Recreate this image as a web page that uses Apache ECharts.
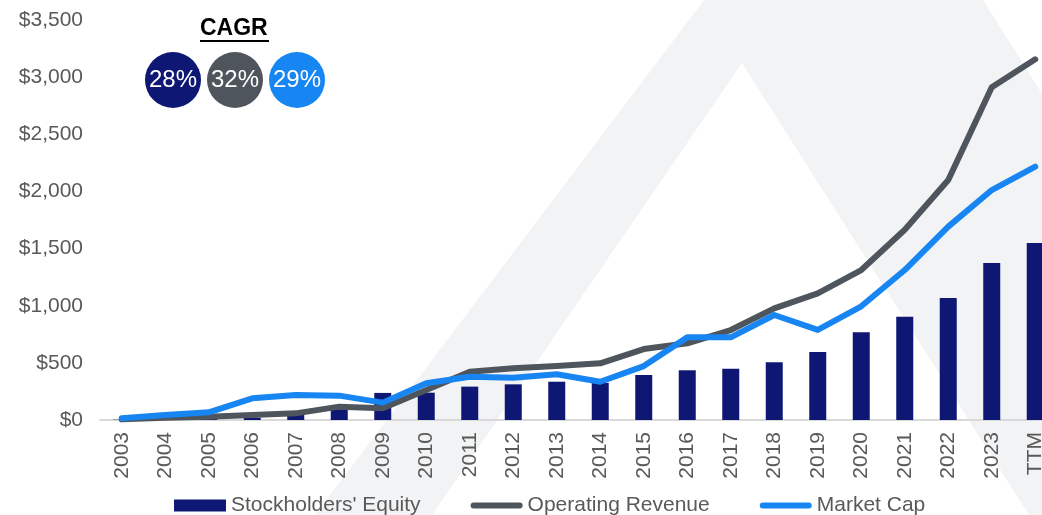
<!DOCTYPE html>
<html>
<head>
<meta charset="utf-8">
<script src="https://cdn.jsdelivr.net/npm/echarts@6/dist/echarts.min.js"></script>
<style>
html,body{margin:0;padding:0;background:#fff;}
#chart{width:1042px;height:515px;}
</style>
</head>
<body>
<div id="chart"></div>
<script>
const categories = ['2003','2004','2005','2006','2007','2008','2009','2010','2011','2012','2013','2014','2015','2016','2017','2018','2019','2020','2021','2022','2023','TTM'];
const stockholdersEquity = [3, 5, 10, 20, 45, 95, 237, 239, 292, 312, 335, 325, 394, 435, 449, 505, 595, 767, 904, 1067, 1374, 1549];
const operatingRevenue = [6, 20, 29, 44, 58, 117, 102, 262, 423, 452, 472, 496, 621, 671, 787, 977, 1108, 1312, 1665, 2100, 2911, 3156];
const marketCap = [15, 44, 67, 190, 219, 213, 152, 321, 379, 370, 400, 335, 472, 723, 723, 919, 788, 995, 1312, 1692, 2012, 2217];
const yTicks = [0, 500, 1000, 1500, 2000, 2500, 3000, 3500];
const cagrLabels = ['28%', '32%', '29%'];
const seriesNames = ["Stockholders' Equity", 'Operating Revenue', 'Market Cap'];
const colors = ['#0e1773', '#4e555c', '#1786f2'];

const chart = echarts.init(document.getElementById('chart'));
const font = 'Liberation Sans, Arial, sans-serif';
const lineIcon = 'path://M3,0 H49 A3,3 0 0 1 49,6 H3 A3,3 0 0 1 3,0 Z';

const graphics = [
  { type: 'polygon', z: -10, silent: true,
    shape: { points: [[315,515],[704,0],[983,0],[1307,515],[1029,515],[742,63],[432,515]] },
    style: { fill: '#f2f3f5' } },
  { type: 'text', left: 200, top: 17, z: 10,
    style: { text: 'CAGR', font: 'bold 23px ' + font, fill: '#000' } },
  { type: 'rect', shape: { x: 200, y: 40, width: 69, height: 2 }, style: { fill: '#000' }, z: 10 }
];
cagrLabels.forEach((t, i) => {
  const cx = 173 + i * 62, cy = 80;
  graphics.push({ type: 'circle', shape: { cx: cx, cy: cy, r: 28 }, style: { fill: colors[i] }, z: 10 });
  graphics.push({ type: 'text', x: cx, y: cy, z: 11,
    style: { text: t, font: '24px ' + font, fill: '#fff', align: 'center', verticalAlign: 'middle' } });
});

chart.setOption({
  backgroundColor: '#fff',
  animation: false,
  graphic: graphics,
  grid: { left: 100, width: 957, top: 20, bottom: 95, outerBoundsMode: 'none', containLabel: false },
  legend: {
    left: 169, top: 490, itemWidth: 52, itemHeight: 12, itemGap: 50,
    symbolKeepAspect: true,
    textStyle: { fontFamily: font, fontSize: 21, color: '#595959' },
    data: [
      { name: seriesNames[0], icon: 'rect' },
      { name: seriesNames[1], icon: lineIcon },
      { name: seriesNames[2], icon: lineIcon }
    ]
  },
  xAxis: {
    type: 'category', data: categories,
    axisLine: { lineStyle: { color: '#d9d9d9', width: 2 } },
    axisTick: { show: false },
    axisLabel: { rotate: 90, margin: 12, fontFamily: font, fontSize: 21, color: '#595959', interval: 0 }
  },
  yAxis: {
    type: 'value', min: yTicks[0], max: yTicks[yTicks.length - 1], interval: 500,
    splitLine: { show: false }, axisLine: { show: false }, axisTick: { show: false },
    axisLabel: { margin: 17, fontFamily: font, fontSize: 21, color: '#595959',
      formatter: v => '$' + v.toLocaleString('en-US') }
  },
  series: [
    { name: seriesNames[0], type: 'bar', data: stockholdersEquity, barWidth: 17,
      itemStyle: { color: colors[0] } },
    { name: seriesNames[1], type: 'line', data: operatingRevenue, symbol: 'none',
      lineStyle: { color: colors[1], width: 6, cap: 'round', join: 'round' }, itemStyle: { color: colors[1] } },
    { name: seriesNames[2], type: 'line', data: marketCap, symbol: 'none',
      lineStyle: { color: colors[2], width: 6, cap: 'round', join: 'round' }, itemStyle: { color: colors[2] } }
  ]
});
</script>
</body>
</html>
